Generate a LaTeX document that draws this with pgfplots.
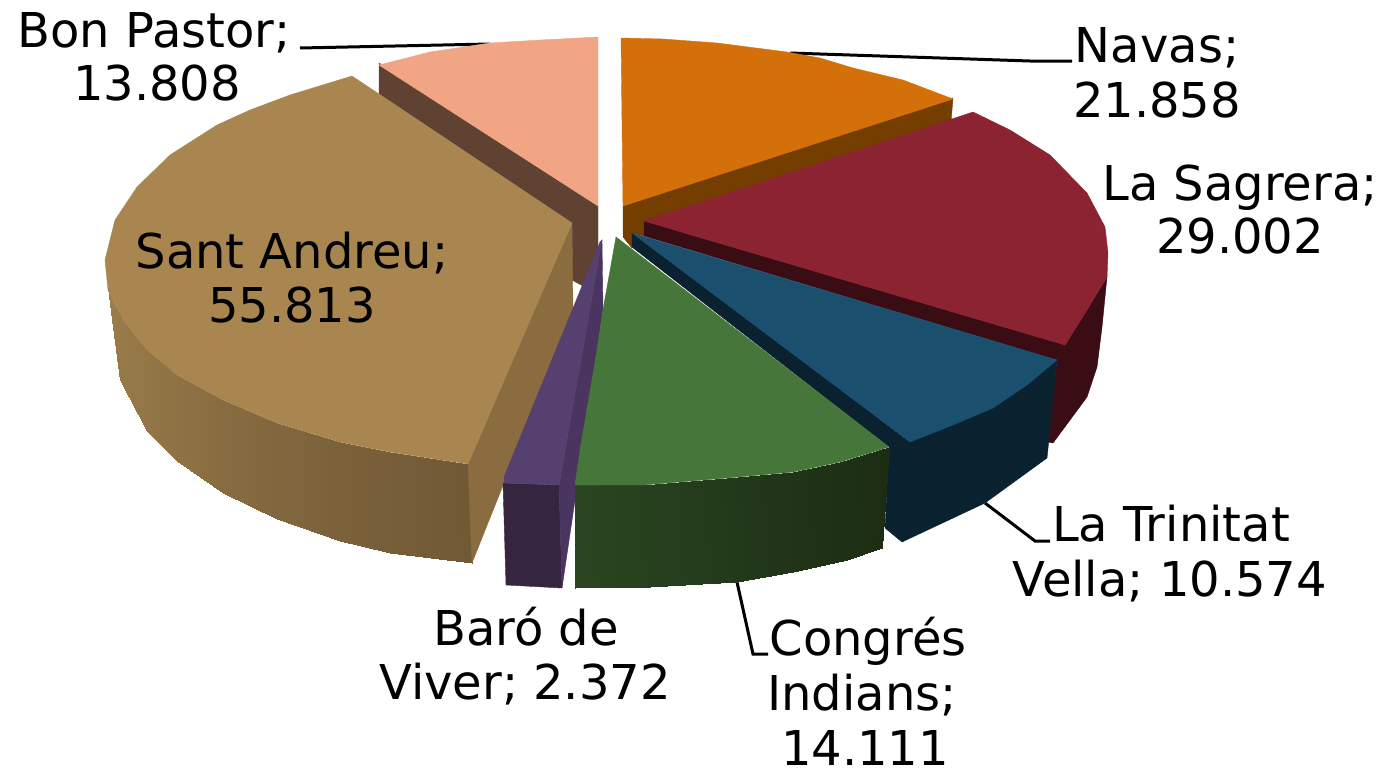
\documentclass[border=0pt]{standalone}
\usepackage{pgfplots}
\pgfplotsset{compat=1.18}
\usepackage{fontspec}
\setmainfont{DejaVu Sans}
\definecolor{orangeT}{HTML}{D4700A}
\definecolor{orangeS}{HTML}{733E00}
\definecolor{redT}{HTML}{8B2331}
\definecolor{redS}{HTML}{3A0D14}
\definecolor{blueT}{HTML}{1A4F6E}
\definecolor{blueS}{HTML}{0A2130}
\definecolor{greenT}{HTML}{47763A}
\definecolor{purpT}{HTML}{55406F}
\definecolor{purpF}{HTML}{4A3460}
\definecolor{purpS}{HTML}{35253F}
\definecolor{sandT}{HTML}{A98650}
\definecolor{sandF}{HTML}{8A6C40}
\definecolor{peachT}{HTML}{F2A584}
\definecolor{peachS}{HTML}{5F4232}
\pgfplotsset{
  colormap={sandside}{rgb255=(156,126,75) rgb255=(134,106,64) rgb255=(112,89,53)},
  colormap={greenside}{rgb255=(42,69,33) rgb255=(28,45,20)},
}
\newcommand{\poly}[2]{\addplot[fill=#1,draw=#1,line width=.4pt,forget plot] coordinates {#2} --cycle;}
\newcommand{\lab}[3]{\node[anchor=base,inner sep=0pt,text=black,font=\fontsize{48}{54}\selectfont] at (axis cs:#1,#2) {#3};}
\begin{document}
\begin{tikzpicture}
\path[use as bounding box] (0,0) rectangle (1383pt,769pt);
\begin{axis}[
  at={(0,0)},anchor=south west,
  scale only axis,width=1383pt,height=769pt,
  xmin=0,xmax=1383,ymin=0,ymax=769,y dir=reverse,
  hide axis,clip=false,
  point meta min=0,point meta max=1,
]
% leader lines
\addplot[black,line width=3pt,forget plot] coordinates {(300,48) (490,44)};
\addplot[black,line width=3pt,forget plot] coordinates {(790,53) (1030,61) (1072,61)};
\addplot[black,line width=3pt,forget plot] coordinates {(985,503) (1035,541) (1050,541)};
\addplot[black,line width=3pt,forget plot] coordinates {(737,582) (753,654) (768,654)};
% Bon Pastor
\poly{peachS}{(379,63) (379,94) (572,223) (572,280) (583,286) (598,250) (598,205)}
\poly{peachT}{(379,65) (430,52) (490,43) (540,40) (598,37) (598,206)}
% Navas
\poly{orangeS}{(623,206) (953,98) (951,122) (644,222) (644,236) (632,233) (632,248) (623,237)}
\poly{orangeT}{(621,38) (663,39) (717,43) (787,52) (820,58) (853,68) (903,80) (953,99) (623,206)}
% La Sagrera
\poly{redS}{(1107,277) (1102,327) (1097,367) (1087,397) (1053,443) (1048,442) (1057,360) (1065,345) (1087,310)}
\poly{redS}{(644,221) (644,236) (1057,360) (1065,345)}
\poly{redT}{(644,221) (973,112) (1010,130) (1050,155) (1087,193) (1105,227) (1108,253) (1107,277) (1087,310) (1065,345)}
% La Trinitat Vella
\poly{blueS}{(910,442) (1057,360) (1047,458) (985,503) (902,542) (885,528) (889,447)}
\poly{blueS}{(632,233) (632,247) (889,447) (910,442)}
\poly{blueT}{(632,233) (1057,360) (1027,385) (993,408) (953,425) (910,442)}
% Sant Andreu
\addplot[surf,shader=interp,colormap name=sandside,mesh/rows=2,mesh/ordering=x varies,point meta=explicit,forget plot] coordinates {
 (108,288) [0] (113,302) [0.05] (123,320) [0.1] (147,350) [0.2] (177,375) [0.3] (223,400) [0.45] (277,423) [0.6] (340,442) [0.75] (390,452) [0.85] (468,464) [1]

 (108,288) [0] (113,327) [0.05] (120,380) [0.1] (147,431) [0.2] (177,461) [0.3] (223,493) [0.45] (277,519) [0.6] (340,541) [0.75] (390,553) [0.85] (472,563) [1]
};
\poly{sandF}{(572,223) (468,464) (472,563) (573,310)}
\poly{sandT}{(352,76) (290,95) (250,110) (217,125) (170,155) (137,187) (115,220) (105,260) (108,290) (123,320) (147,350) (177,375) (223,400) (277,423) (340,442) (390,452) (468,464) (572,223)}
% Baro de Viver
\poly{purpS}{(503,483) (559,485) (562,588) (506,585)}
\poly{purpF}{(602,240) (559,485) (562,588) (575,500) (603,310)}
\poly{purpT}{(600,242) (602,240) (559,485) (504,483) (504,477)}
% Congres Indians
\addplot[surf,shader=interp,colormap name=greenside,mesh/rows=2,mesh/ordering=x varies,point meta=explicit,forget plot] coordinates {
 (575,485) [0] (643,485) [0.2] (727,478) [0.5] (793,472) [0.7] (840,462) [0.85] (889,447) [1]

 (575,588) [0] (650,587) [0.2] (737,582) [0.5] (793,572) [0.7] (847,560) [0.85] (882,548) [1]
};
\poly{greenT}{(616,237) (889,447) (840,462) (793,472) (727,478) (643,485) (575,485) (580,450) (597,350) (603,310)}
% labels
\lab{1157}{62}{Navas;}
\lab{1157}{117}{21.858}
\lab{1240}{200}{La Sagrera;}
\lab{1240}{253}{29.002}
\lab{154}{47}{Bon Pastor;}
\lab{157}{100}{13.808}
\lab{292}{268}{Sant Andreu;}
\lab{292}{322}{55.813}
\lab{1171}{541}{La Trinitat}
\lab{1170}{596}{Vella; 10.574}
\lab{868}{655}{Congrés}
\lab{862}{710}{Indians;}
\lab{865}{765}{14.111}
\lab{526}{645}{Baró de}
\lab{525}{699}{Viver; 2.372}
\end{axis}
\end{tikzpicture}
\end{document}
